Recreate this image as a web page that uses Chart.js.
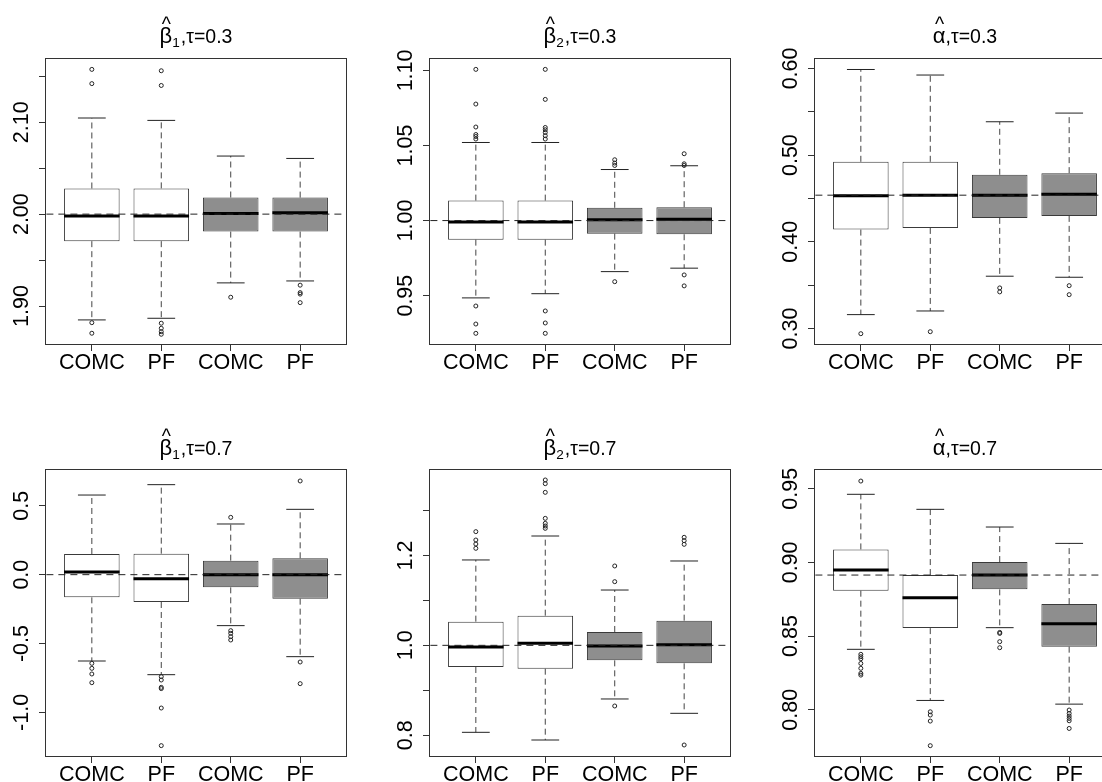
<!DOCTYPE html>
<html>
<head>
<meta charset="utf-8">
<title>Boxplots of estimates</title>
<script src="https://cdn.jsdelivr.net/npm/chart.js@4.4.1/dist/chart.umd.min.js"></script>
<style>
  html, body { margin: 0; padding: 0; background: #fff; }
  body { width: 1102px; height: 782px; overflow: hidden; position: relative; }
  canvas { position: absolute; }
</style>
</head>
<body>
<canvas id="p1" width="370" height="390" style="left:0px;top:0px"></canvas>
<canvas id="p2" width="370" height="390" style="left:384px;top:0px"></canvas>
<canvas id="p3" width="370" height="390" style="left:769px;top:0px"></canvas>
<canvas id="p4" width="370" height="382" style="left:0px;top:400px"></canvas>
<canvas id="p5" width="370" height="382" style="left:384px;top:400px"></canvas>
<canvas id="p6" width="370" height="382" style="left:769px;top:400px"></canvas>
<script>
const categories = ['COMC', 'PF', 'COMC', 'PF'];
const boxFills = ['#ffffff', '#ffffff', '#8e8e8e', '#8e8e8e'];
// panel titles: hatted symbol, its subscript, the rest
const titleBase = ['\u03B2', '\u03B2', '\u03B1', '\u03B2', '\u03B2', '\u03B1'];
const titleSub = ['1', '2', '', '1', '2', ''];
const titleRest = [',\u03C4=0.3', ',\u03C4=0.3', ',\u03C4=0.3', ',\u03C4=0.7', ',\u03C4=0.7', ',\u03C4=0.7'];

// every box: [lower whisker, Q1, median, Q3, upper whisker]
// beta1, tau = 0.3
const b1t3Box = [
  [1.8849, 1.9706, 1.9980, 2.0279, 2.1046],
  [1.8867, 1.9706, 1.9980, 2.0280, 2.1020],
  [1.9252, 1.9810, 2.0007, 2.0181, 2.0632],
  [1.9273, 1.9810, 2.0014, 2.0180, 2.0606]
];
const b1t3Out = [
  [2.1575, 2.1420, 1.8819, 1.8704],
  [2.1560, 2.1400, 1.8813, 1.8758, 1.8721, 1.8693],
  [1.9096],
  [1.9227, 1.9146, 1.9130, 1.9037]
];
const b1t3Ticks = [1.90, 1.95, 2.00, 2.05, 2.10, 2.15];
const b1t3Labels = ['1.90', '', '2.00', '', '2.10', ''];
const b1t3Range = [1.8587, 2.1688];
const b1t3True = 2.00;

// beta2, tau = 0.3
const b2t3Box = [
  [0.9485, 0.9873, 0.9991, 1.0133, 1.0520],
  [0.9513, 0.9873, 0.9990, 1.0133, 1.0520],
  [0.9660, 0.9913, 1.0005, 1.0085, 1.0340],
  [0.9683, 0.9909, 1.0009, 1.0089, 1.0365]
];
const b2t3Out = [
  [1.1007, 1.0776, 1.0623, 1.0573, 1.0560, 1.0543, 0.9431, 0.9311, 0.9249],
  [1.1007, 1.0807, 1.0620, 1.0605, 1.0587, 1.0565, 1.0543, 0.9398, 0.9318, 0.9249],
  [1.0405, 1.0383, 1.0367, 0.9593],
  [1.0445, 1.0378, 1.0367, 0.9638, 0.9565]
];
const b2t3Ticks = [0.95, 1.00, 1.05, 1.10];
const b2t3Labels = ['0.95', '1.00', '1.05', '1.10'];
const b2t3Range = [0.9178, 1.1076];
const b2t3True = 1.00;

// alpha, tau = 0.3
const at3Box = [
  [0.3160, 0.4141, 0.4530, 0.4923, 0.5988],
  [0.3202, 0.4160, 0.4538, 0.4923, 0.5924],
  [0.3603, 0.4276, 0.4538, 0.4773, 0.5385],
  [0.3591, 0.4299, 0.4550, 0.4792, 0.5485]
];
const at3Out = [
  [0.2940],
  [0.2963],
  [0.3468, 0.3422],
  [0.3494, 0.3390]
];
const at3Ticks = [0.30, 0.35, 0.40, 0.45, 0.50, 0.55, 0.60];
const at3Labels = ['0.30', '', '0.40', '', '0.50', '', '0.60'];
const at3Range = [0.2821, 0.6109];
const at3True = 0.4538;

// beta1, tau = 0.7
const b1t7Box = [
  [-0.6267, -0.1645, 0.0194, 0.1500, 0.5780],
  [-0.7259, -0.1984, -0.0290, 0.1524, 0.6533],
  [-0.3700, -0.0920, 0.0000, 0.1016, 0.3678],
  [-0.5952, -0.1742, 0.0000, 0.1186, 0.4742]
];
const b1t7Out = [
  [-0.6436, -0.6800, -0.7210, -0.7840],
  [-0.7400, -0.7646, -0.8178, -0.8270, -0.9680, -1.2410],
  [0.4160, -0.4065, -0.4258, -0.4500, -0.4742],
  [0.6800, -0.6340, -0.7910]
];
const b1t7Ticks = [-1.0, -0.5, 0.0, 0.5];
const b1t7Labels = ['-1.0', '-0.5', '0.0', '0.5'];
const b1t7Range = [-1.3162, 0.7597];
const b1t7True = 0.0;

// beta2, tau = 0.7
const b2t7Box = [
  [0.8064, 0.9518, 0.9963, 1.0527, 1.1900],
  [0.7893, 0.9480, 1.0045, 1.0660, 1.2433],
  [0.8806, 0.9666, 0.9985, 1.0297, 1.1231],
  [0.8487, 0.9600, 1.0015, 1.0549, 1.1877]
];
const b2t7Out = [
  [1.2530, 1.2344, 1.2255, 1.2159],
  [1.3680, 1.3598, 1.3405, 1.2826, 1.2715, 1.2656, 1.2604],
  [1.1766, 1.1417, 0.8650],
  [1.2404, 1.2329, 1.2248, 0.7782]
];
const b2t7Ticks = [0.8, 0.9, 1.0, 1.1, 1.2, 1.3];
const b2t7Labels = ['0.8', '', '1.0', '', '1.2', ''];
const b2t7Range = [0.7537, 1.3902];
const b2t7True = 1.0;

// alpha, tau = 0.7
const at7Box = [
  [0.8410, 0.8808, 0.8948, 0.9088, 0.9462],
  [0.8063, 0.8554, 0.8760, 0.8914, 0.9360],
  [0.8557, 0.8817, 0.8914, 0.9002, 0.9240],
  [0.8038, 0.8428, 0.8584, 0.8717, 0.9129]
];
const at7Out = [
  [0.9552, 0.8376, 0.8360, 0.8346, 0.8314, 0.8281, 0.8247, 0.8235],
  [0.7986, 0.7964, 0.7923, 0.7756],
  [0.8525, 0.8518, 0.8462, 0.8421],
  [0.7998, 0.7975, 0.7957, 0.7941, 0.7925, 0.7873]
];
const at7Ticks = [0.80, 0.85, 0.90, 0.95];
const at7Labels = ['0.80', '0.85', '0.90', '0.95'];
const at7Range = [0.7686, 0.9627];
const at7True = 0.8914;

const FONT = '"Liberation Sans", Arial, sans-serif';
Chart.defaults.font.family = FONT;
Chart.defaults.color = '#000';
Chart.defaults.animation = false;

const AXIS_FONT = 21.5;
const TITLE_FONT = 19.5;
const SYMBOL_FONT = 22;
const xHeight = [46, 26];
const topPad = [59, 70];
const titleBaseline = [43, 55];

const measure = document.createElement('canvas').getContext('2d');
measure.font = AXIS_FONT + 'px ' + FONT;

// R-style box round the plot region
const frame = {
  id: 'frame',
  afterDraw(chart) {
    const {ctx, chartArea: a} = chart;
    ctx.save();
    ctx.strokeStyle = '#333';
    ctx.lineWidth = 1;
    ctx.strokeRect(Math.round(a.left) - 0.5, Math.round(a.top) - 0.5,
      Math.round(a.right - a.left) + 1, Math.round(a.bottom - a.top) + 1);
    ctx.restore();
  }
};

// plotmath-like title: hat over the symbol, subscript, then the rest
const mathTitle = {
  id: 'mathTitle',
  afterDraw(chart, args, opts) {
    const {ctx, chartArea: a} = chart;
    const sym = SYMBOL_FONT + 'px ' + FONT;
    const big = TITLE_FONT + 'px ' + FONT;
    const small = (TITLE_FONT * 0.7).toFixed(1) + 'px ' + FONT;
    ctx.save();
    ctx.fillStyle = '#000';
    ctx.textBaseline = 'alphabetic';
    ctx.font = sym;
    const wBase = ctx.measureText(opts.base).width;
    ctx.font = big;
    const wRest = ctx.measureText(opts.rest).width;
    ctx.font = small;
    const wSub = opts.sub ? ctx.measureText(opts.sub).width + 1 : 0;
    let x = (a.left + a.right) / 2 - (wBase + wSub + wRest) / 2;
    const y = opts.baseline;
    ctx.font = sym;
    ctx.fillText(opts.base, x, y);
    ctx.font = big;
    ctx.textAlign = 'center';
    ctx.fillText('^', x + wBase / 2 + 0.5, y - TITLE_FONT * 0.63);
    ctx.textAlign = 'left';
    x += wBase;
    if (opts.sub) {
      ctx.font = small;
      ctx.fillText(opts.sub, x, y + TITLE_FONT * 0.18);
      x += wSub;
    }
    ctx.font = big;
    ctx.fillText(opts.rest, x, y);
    ctx.restore();
  }
};

function boxChart(id, row, n, box, out, ticks, labels, range, truth) {
  const widest = Math.max(...labels.map(t => measure.measureText(t).width));
  const medians = [], whiskers = [], caps = [], points = [];
  box.forEach((b, i) => {
    const x = i + 1;
    medians.push({x: x - 0.4, y: b[2]}, {x: x + 0.4, y: b[2]}, {x: x + 0.5, y: null});
    whiskers.push({x: x, y: b[3]}, {x: x, y: b[4]}, {x: x, y: null},
                  {x: x, y: b[1]}, {x: x, y: b[0]}, {x: x, y: null});
    caps.push({x: x - 0.2, y: b[4]}, {x: x + 0.2, y: b[4]}, {x: x + 0.5, y: null},
              {x: x - 0.2, y: b[0]}, {x: x + 0.2, y: b[0]}, {x: x + 0.5, y: null});
    out[i].forEach(v => points.push({x: x, y: v}));
  });

  const tickGrid = {display: true, offset: false, drawOnChartArea: false, drawTicks: true,
                    tickLength: 7, color: '#333'};

  return new Chart(document.getElementById(id), {
    type: 'bar',
    data: {
      datasets: [
        {type: 'line', data: [{x: 0, y: truth}, {x: 5, y: truth}], borderColor: '#222',
         borderWidth: 1, borderDash: [7, 5], pointRadius: 0, order: 0},
        {type: 'line', data: medians, borderColor: '#000', borderWidth: 3,
         pointRadius: 0, spanGaps: false, order: 1},
        {type: 'scatter', data: points, pointStyle: 'circle', pointRadius: 2,
         borderColor: '#222', borderWidth: 1, backgroundColor: 'rgba(0,0,0,0)', order: 1},
        {type: 'bar', data: box.map((b, i) => ({x: i + 1, y: [b[1], b[3]]})),
         backgroundColor: boxFills, borderColor: '#3a3a3a', borderWidth: 1, borderSkipped: false,
         categoryPercentage: 1, barPercentage: 0.8, order: 2},
        {type: 'line', data: caps, borderColor: '#222', borderWidth: 1,
         pointRadius: 0, spanGaps: false, order: 3},
        {type: 'line', data: whiskers, borderColor: '#444', borderWidth: 1, borderDash: [6, 4],
         pointRadius: 0, spanGaps: false, order: 3}
      ]
    },
    options: {
      responsive: false,
      devicePixelRatio: 1,
      layout: {padding: {left: 0, right: 24, top: topPad[row], bottom: 0}},
      plugins: {
        legend: {display: false},
        tooltip: {enabled: false},
        title: {display: false},
        mathTitle: {base: titleBase[n], sub: titleSub[n], rest: titleRest[n], baseline: titleBaseline[row]}
      },
      scales: {
        x: {
          type: 'linear', min: 0.34, max: 4.66, offset: false,
          afterBuildTicks: s => { s.ticks = categories.map((c, i) => ({value: i + 1})); },
          afterFit: s => { s.height = xHeight[row]; },
          grid: tickGrid,
          border: {display: false},
          ticks: {autoSkip: false, minRotation: 0, maxRotation: 0, padding: -1,
                  font: {size: AXIS_FONT}, color: '#000', callback: v => categories[v - 1]}
        },
        y: {
          type: 'linear', min: range[0], max: range[1], offset: false,
          afterBuildTicks: s => { s.ticks = ticks.map(v => ({value: v})); },
          afterFit: s => { s.width = 46; },
          grid: tickGrid,
          border: {display: false},
          ticks: {autoSkip: false, minRotation: 90, maxRotation: 90, crossAlign: 'center',
                  padding: 17 - widest / 2, font: {size: AXIS_FONT}, color: '#000',
                  callback: (v, i) => labels[i]}
        }
      }
    },
    plugins: [frame, mathTitle]
  });
}

boxChart('p1', 0, 0, b1t3Box, b1t3Out, b1t3Ticks, b1t3Labels, b1t3Range, b1t3True);
boxChart('p2', 0, 1, b2t3Box, b2t3Out, b2t3Ticks, b2t3Labels, b2t3Range, b2t3True);
boxChart('p3', 0, 2, at3Box, at3Out, at3Ticks, at3Labels, at3Range, at3True);
boxChart('p4', 1, 3, b1t7Box, b1t7Out, b1t7Ticks, b1t7Labels, b1t7Range, b1t7True);
boxChart('p5', 1, 4, b2t7Box, b2t7Out, b2t7Ticks, b2t7Labels, b2t7Range, b2t7True);
boxChart('p6', 1, 5, at7Box, at7Out, at7Ticks, at7Labels, at7Range, at7True);
</script>
</body>
</html>
